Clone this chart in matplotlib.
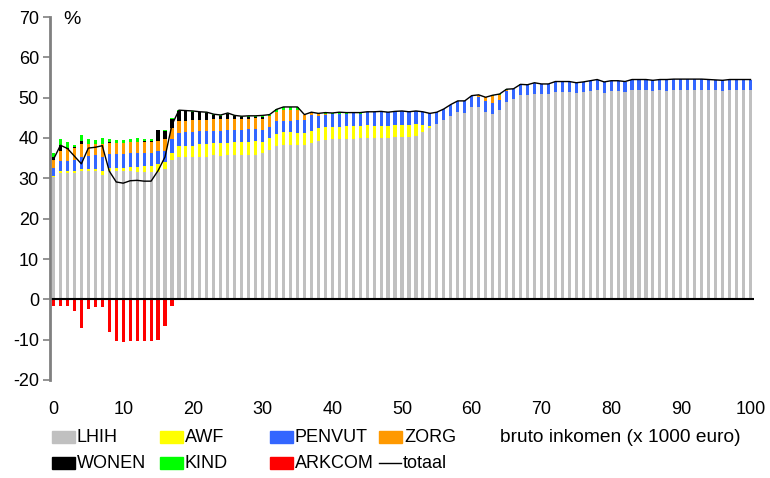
import matplotlib.pyplot as plt
import matplotlib.patches as mpatches
from matplotlib.lines import Line2D
import numpy as np

plt.rcParams['font.family'] = ['Liberation Sans', 'DejaVu Sans']
plt.rcParams['axes.unicode_minus'] = False

# bruto inkomen in 1000 euro: 0..100
inkomen = list(range(101))

# aandeel per component (%)
lhih = [30.4, 31.4, 31.4, 31.4, 31.7, 31.8, 31.8, 30.8, 31.7, 31.7,
        31.7, 31.7, 31.6, 31.6, 31.5, 31.6, 32.3, 34.5, 35.4, 35.4,
        35.2, 35.4, 35.4, 35.7, 35.6, 35.8, 35.8, 35.7, 35.9, 35.9,
        36.2, 37.0, 37.9, 38.3, 38.3, 38.3, 38.3, 38.7, 39.3, 39.5,
        39.8, 39.8, 39.8, 39.8, 40.0, 40.0, 40.0, 40.0, 40.0, 40.2,
        40.2, 40.2, 40.5, 41.5, 42.5, 43.5, 44.5, 45.5, 46.5, 46.3,
        47.8, 47.7, 46.5, 46.0, 47.0, 49.0, 49.7, 50.7, 50.7, 50.9,
        50.9, 50.9, 51.4, 51.4, 51.4, 51.2, 51.4, 51.7, 52.0, 51.2,
        51.7, 51.7, 51.5, 52.0, 52.0, 52.0, 51.7, 52.0, 51.7, 52.0,
        52.0, 52.0, 52.0, 52.0, 51.8, 52.0, 51.7, 52.0, 52.0, 52.0,
        52.0]
awf = [0.3, 0.3, 0.4, 0.5, 0.7, 0.5, 0.4, 1.1, 0.9, 0.8,
       0.8, 1.0, 1.2, 1.5, 1.6, 1.9, 1.7, 1.9, 2.5, 2.7,
       2.8, 3.1, 3.1, 3.1, 3.2, 2.9, 3.2, 3.3, 3.2, 3.3,
       2.8, 3.1, 3.2, 3.2, 3.2, 3.0, 2.9, 3.1, 3.3, 3.2,
       3.0, 2.9, 3.2, 3.2, 3.0, 3.2, 3.0, 3.0, 3.0, 3.0,
       3.0, 3.0, 3.0, 1.7, 0.5] + [0.0] * 46
penvut = [1.9, 2.6, 2.5, 2.6, 3.0, 3.3, 3.5, 3.3, 3.4, 3.6,
          3.5, 3.5, 3.5, 3.3, 3.3, 3.2, 2.9, 3.4, 3.3, 3.4,
          3.5, 3.2, 3.2, 3.0, 3.0, 3.3, 3.0, 3.1, 3.1, 3.1,
          3.1, 2.7, 3.0, 2.8, 2.8, 3.1, 3.3, 3.9, 2.9, 3.0,
          3.2, 3.3, 3.0, 3.1, 3.0, 3.2, 3.4, 3.4, 3.4, 3.3,
          3.4, 3.3, 3.2, 3.3, 3.1, 2.9, 2.7, 2.8, 2.7, 2.9,
          2.7, 2.5, 2.7, 2.7, 2.5, 2.6, 2.5, 2.5, 2.5, 2.7,
          2.5, 2.5, 2.6, 2.6, 2.6, 2.5, 2.5, 2.5, 2.5, 2.7,
          2.5, 2.5, 2.5, 2.5, 2.5, 2.5, 2.6, 2.5, 2.8, 2.6,
          2.6, 2.6, 2.6, 2.6, 2.7, 2.4, 2.6, 2.5, 2.5, 2.5,
          2.5]
zorg = [1.9, 2.6, 2.9, 2.9, 3.2, 2.9, 2.7, 3.3, 2.8, 2.7,
        2.7, 2.8, 2.6, 2.6, 2.5, 2.6, 2.9, 2.6, 2.9, 2.7,
        2.9, 2.8, 2.8, 2.9, 2.9, 2.7, 2.6, 2.6, 2.6, 2.6,
        2.6, 2.6, 2.3, 2.6, 2.6, 2.6, 1.1, 0.4, 0.4, 0.2,
        0.0, 0.0, 0.0, 0.0, 0.0, 0.0, 0.0, 0.2, 0.0, 0.0,
        0.0, 0.0, 0.0, 0.0, 0.0, 0.0, 0.0, 0.0, 0.0, 0.0,
        0.0, 0.4, 0.9, 1.6, 1.2, 0.3] + [0.0] * 35
wonen = [0.9, 1.4, 0.4, 0.4, 0.7, 0.1, 0.1, 0.1, 0.1, 0.0,
         0.0, 0.0, 0.2, 0.2, 0.3, 2.6, 2.0, 2.3, 2.5, 2.5,
         2.1, 1.9, 1.8, 1.0, 0.8, 1.3, 0.8, 0.5, 0.5, 0.4,
         0.6] + [0.0] * 70
kind = [0.9, 1.5, 1.4, 0.5, 1.5, 1.2, 1.0, 1.3, 0.9, 0.7,
        0.8, 0.8, 0.8, 0.5, 0.5, 0.2, 0.2, 0.2, 0.3, 0.1,
        0.2, 0.1, 0.1, 0.2, 0.2, 0.2, 0.2, 0.2, 0.2, 0.2,
        0.3, 0.4, 0.7, 0.8, 0.8, 0.7, 0.2, 0.3, 0.2, 0.4,
        0.2, 0.4, 0.3, 0.2, 0.3, 0.1, 0.1, 0.0, 0.0, 0.1,
        0.1, 0.0, 0.0, 0.0, 0.0, 0.0, 0.0, 0.0, 0.0, 0.0,
        0.0, 0.1, 0.0, 0.3, 0.2, 0.2, 0.0, 0.1, 0.0, 0.1] + [0.0] * 31
arkcom = [-1.6, -1.6, -1.6, -2.8, -7.2, -2.3, -1.8, -1.8, -8.0, -10.4,
          -10.7, -10.4, -10.4, -10.4, -10.4, -10.2, -6.7, -1.6] + [0.0] * 83

kleuren = {'LHIH': '#C0C0C0', 'AWF': '#FFFF00', 'PENVUT': '#3366FF',
           'ZORG': '#FF9900', 'WONEN': '#000000', 'KIND': '#00FF00',
           'ARKCOM': '#FF0000'}

x = np.array(inkomen)
reeksen = [('LHIH', lhih), ('AWF', awf), ('PENVUT', penvut),
           ('ZORG', zorg), ('WONEN', wonen), ('KIND', kind)]

fig = plt.figure(figsize=(7.7, 4.78), dpi=100)
ax = fig.add_axes([50 / 770, 1 - 380 / 478, 704 / 770, 363 / 478])

# gestapelde staven
onder = np.zeros(len(x))
for naam, waarden in reeksen:
    w = np.array(waarden)
    ax.bar(x, w, bottom=onder, width=0.45, color=kleuren[naam], linewidth=0)
    onder += w
ax.bar(x, arkcom, width=0.45, color=kleuren['ARKCOM'], linewidth=0)

totaal = onder + np.array(arkcom)
ax.plot(x, totaal, color='black', linewidth=1)

ax.axhline(0, color='black', linewidth=1.5)

ax.set_xlim(-0.5, 100.5)
ax.set_ylim(-20, 70)
ax.set_yticks(range(-20, 71, 10))
ax.set_xticks(range(0, 101, 10))
ax.tick_params(axis='x', length=0, pad=15, labelsize=13)
ax.tick_params(axis='y', length=5, width=1.2, color='#808080', labelsize=13, pad=3)
for s in ['top', 'right', 'bottom']:
    ax.spines[s].set_visible(False)
ax.spines['left'].set_color('#808080')
ax.spines['left'].set_linewidth(2)

fig.text(63 / 770, 1 - 20 / 478, '%', fontsize=14, va='center', ha='left')

# legenda
legenda = [[('LHIH', 52, 437), ('AWF', 160, 437), ('PENVUT', 270, 437), ('ZORG', 379, 437)],
           [('WONEN', 52, 463), ('KIND', 160, 463), ('ARKCOM', 270, 463)]]
for rij in legenda:
    for naam, px, py in rij:
        fig.patches.append(mpatches.Rectangle((px / 770, 1 - (py + 6) / 478), 23 / 770, 12 / 478,
                                              transform=fig.transFigure, color=kleuren[naam]))
        fig.text((px + 25) / 770, 1 - py / 478, naam, fontsize=13, va='center', ha='left')
fig.lines.append(Line2D([379 / 770, 401 / 770], [1 - 463 / 478, 1 - 463 / 478],
                        transform=fig.transFigure, color='black', linewidth=1))
fig.text(403 / 770, 1 - 463 / 478, 'totaal', fontsize=13, va='center', ha='left')
fig.text(500 / 770, 1 - 437 / 478, 'bruto inkomen (x 1000 euro)', fontsize=13.8, va='center', ha='left')

fig.savefig('out.png', dpi=100)
